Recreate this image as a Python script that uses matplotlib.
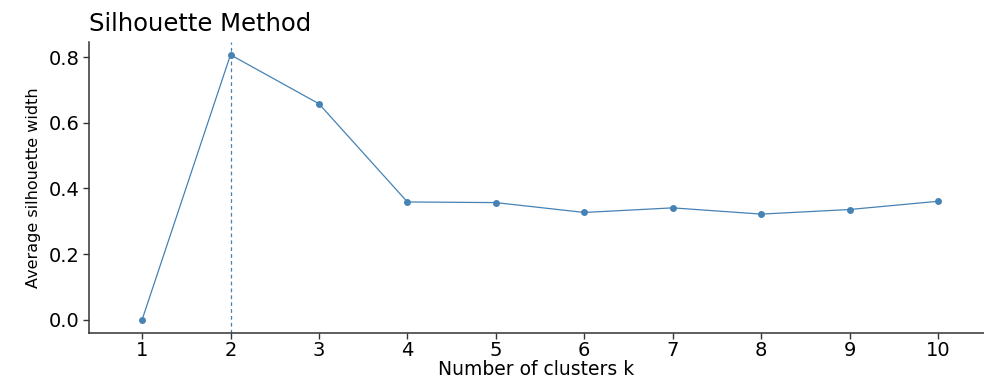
import numpy as np
import matplotlib
matplotlib.use("Agg")
import matplotlib.pyplot as plt

# data
k = [1, 2, 3, 4, 5, 6, 7, 8, 9, 10]
sil_width = [0.0, 0.807, 0.658, 0.359, 0.357, 0.327, 0.341, 0.322, 0.336, 0.361]
best_k = 2
yticks = [0.0, 0.2, 0.4, 0.6, 0.8]

col = '#4682B4'  # steelblue
ink = '#333333'

fig = plt.figure(figsize=(9.84, 3.78), dpi=100)
ax = fig.add_axes([89/984, 45/378, 1 - 89/984, (333 - 42)/378])

ax.plot(k, sil_width, '-', color=col, linewidth=0.9, marker='o',
        markersize=5, markeredgewidth=0, zorder=3)
ax.axvline(best_k, color=col, linewidth=0.9, linestyle=(0, (3, 2.5)), zorder=2)

ax.set_xlim(0.4, 10.52)
ax.set_ylim(-0.04, 0.846)
ax.set_xticks(k)
ax.set_xticklabels([str(v) for v in k])
ax.set_yticks(yticks)
ax.set_yticklabels(['%.1f' % v for v in yticks])

for s in ['top', 'right']:
    ax.spines[s].set_visible(False)
for s in ['left', 'bottom']:
    ax.spines[s].set_color(ink)
    ax.spines[s].set_linewidth(1.1)

ax.tick_params(axis='both', colors=ink, length=4.5, width=1.0,
               labelsize=14, labelcolor='black')
ax.tick_params(axis='y', pad=2)
ax.tick_params(axis='x', pad=1.5)

ax.set_xlabel('Number of clusters k', fontsize=13.5, labelpad=0)
ax.set_ylabel('Average silhouette width', fontsize=11.5, labelpad=6)
ax.set_title('Silhouette Method', loc='left', fontsize=17.5, pad=8)

fig.savefig('out.png', dpi=100)
